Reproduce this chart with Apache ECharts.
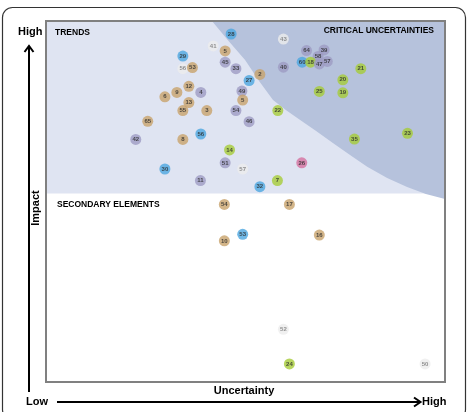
<!DOCTYPE html>
<html>
<head>
<meta charset="utf-8">
<script src="https://cdn.jsdelivr.net/npm/echarts@6/dist/echarts.min.js"></script>
<style>
html, body { margin: 0; padding: 0; background: #fff; }
#chart { width: 469px; height: 412px; }
</style>
</head>
<body>
<div id="chart"></div>
<script>
// factor ids, position on uncertainty (x) / impact (y), 0..100
const ids = ['28','41','5','29','56','53','45','33','2','27','12','9','4','6','13','55','3','49','5','54','46','22','65','42','8','56','14','51','57','30','11','32','7','26','43','64','39','58','60','18','47','57','40','21','20','25','19','35','23','54','17','53','10','16','52','24','50']
const uncertainty = [46.4,41.9,44.9,34.3,34.3,36.7,44.9,47.6,53.6,50.9,35.8,32.8,38.8,29.8,35.8,34.3,40.3,49.1,49.3,47.6,50.9,58.1,25.5,22.5,34.3,38.8,46.0,44.9,49.3,29.8,38.7,53.6,58.0,64.1,59.5,65.3,69.7,68.2,64.2,66.3,68.5,70.5,59.5,78.9,74.4,68.5,74.4,77.3,90.6,44.7,61.0,49.3,44.7,68.5,59.5,61.0,95.0]
const impact = [96.4,93.1,91.7,90.3,86.8,87.1,88.6,86.8,85.2,83.5,81.9,80.2,80.2,79.0,77.4,75.2,75.2,80.6,78.1,75.2,72.1,75.2,72.2,67.2,67.2,68.7,64.3,60.7,59.0,59.0,55.8,54.1,55.8,60.7,95.0,91.8,92.0,90.2,88.6,88.6,88.1,88.8,87.2,86.8,83.7,80.5,80.1,67.3,68.9,49.2,49.2,40.9,39.1,40.7,14.6,5.0,5.0]
const groups = ['b','w','t','b','w','t','p','p','t','b','t','t','p','t','t','t','t','p','t','p','p','g','t','p','t','b','g','p','w','b','p','b','g','k','w','p','p','p','b','g','p','p','p','g','g','g','g','g','g','t','t','b','t','t','w','g','w']

// boundary of the critical uncertainties zone
const curveX = [41.6, 45.6, 49.9, 53.4, 56.9, 60.2, 63.7, 67.7, 71.9, 76.2, 80.5, 85.5, 90.5, 95.2, 100]
const curveY = [100, 94.7, 89.2, 83.4, 78.1, 75.3, 72.6, 69.5, 66.2, 62.9, 59.6, 56.5, 54.0, 52.1, 50.7]
const trendsFloor = 52.2

const palette = {
  t: '#c8a26c',
  p: '#9d9bc3',
  b: '#4ca6e0',
  g: '#a6cc38',
  w: '#ececec',
  k: '#d4709f'
}

const points = ids.map((id, i) => ({
  name: id,
  value: [uncertainty[i], impact[i]],
  itemStyle: { color: palette[groups[i]] },
  label: { color: groups[i] === 'w' ? '#777' : '#2b2b2b' }
}))

const chart = echarts.init(document.getElementById('chart'))
chart.setOption({
  animation: false,
  grid: { left: 46, top: 21, right: 24, bottom: 30 },
  xAxis: { type: 'value', min: 0, max: 100, show: false },
  yAxis: { type: 'value', min: 0, max: 100, show: false },
  series: [
    {
      type: 'custom',
      z: 1,
      data: [0],
      renderItem: function (params, api) {
        const a = api.coord([0, 100])
        const b = api.coord([100, trendsFloor])
        return {
          type: 'rect',
          shape: { x: a[0], y: a[1], width: b[0] - a[0], height: b[1] - a[1] },
          style: { fill: '#dfe4f2' }
        }
      }
    },
    {
      type: 'custom',
      z: 2,
      data: [0],
      renderItem: function (params, api) {
        const pts = curveX.map((x, i) => api.coord([x, curveY[i]]))
        pts.push(api.coord([100, 100]))
        return {
          type: 'polygon',
          shape: { points: pts },
          style: { fill: '#b6c2dc' }
        }
      }
    },
    {
      type: 'scatter',
      z: 3,
      symbolSize: 11,
      data: points,
      label: {
        show: true,
        position: 'inside',
        formatter: '{b}',
        fontSize: 6,
        fontWeight: 'bold',
        fontFamily: 'Liberation Sans'
      }
    }
  ],
  graphic: [
    { type: 'rect', z: 10, shape: { x: 2.5, y: 7.5, width: 463, height: 412, r: 10 },
      style: { fill: null, stroke: '#333', lineWidth: 1.2 } },
    { type: 'rect', z: 10, shape: { x: 46, y: 21, width: 399, height: 361 },
      style: { fill: null, stroke: '#808080', lineWidth: 2 } },
    { type: 'line', z: 10, shape: { x1: 29, y1: 392, x2: 29, y2: 47 },
      style: { stroke: '#000', lineWidth: 2 } },
    { type: 'polyline', z: 10, shape: { points: [[24.5, 52], [29, 46], [33.5, 52]] },
      style: { stroke: '#000', lineWidth: 2, fill: null } },
    { type: 'line', z: 10, shape: { x1: 57, y1: 402, x2: 420, y2: 402 },
      style: { stroke: '#000', lineWidth: 2 } },
    { type: 'polyline', z: 10, shape: { points: [[414, 397.5], [420.5, 402], [414, 406.5]] },
      style: { stroke: '#000', lineWidth: 2, fill: null } },
    { type: 'text', z: 10, x: 18, y: 32,
      style: { text: 'High', font: 'bold 11px "Liberation Sans"', fill: '#000', verticalAlign: 'middle' } },
    { type: 'text', z: 10, x: 26, y: 402,
      style: { text: 'Low', font: 'bold 11px "Liberation Sans"', fill: '#000', verticalAlign: 'middle' } },
    { type: 'text', z: 10, x: 422, y: 402,
      style: { text: 'High', font: 'bold 11px "Liberation Sans"', fill: '#000', verticalAlign: 'middle' } },
    { type: 'text', z: 10, x: 244, y: 391,
      style: { text: 'Uncertainty', font: 'bold 11px "Liberation Sans"', fill: '#000', align: 'center', verticalAlign: 'middle' } },
    { type: 'text', z: 10, x: 36, y: 208, rotation: Math.PI / 2,
      style: { text: 'Impact', font: 'bold 11px "Liberation Sans"', fill: '#000', align: 'center', verticalAlign: 'middle' } },
    { type: 'text', z: 10, x: 55, y: 33,
      style: { text: 'TRENDS', font: 'bold 8.5px "Liberation Sans"', fill: '#000', verticalAlign: 'middle' } },
    { type: 'text', z: 10, x: 434, y: 31,
      style: { text: 'CRITICAL UNCERTAINTIES', font: 'bold 8.5px "Liberation Sans"', fill: '#000', align: 'right', verticalAlign: 'middle' } },
    { type: 'text', z: 10, x: 57, y: 205,
      style: { text: 'SECONDARY ELEMENTS', font: 'bold 8.5px "Liberation Sans"', fill: '#000', verticalAlign: 'middle' } }
  ]
})
</script>
</body>
</html>
